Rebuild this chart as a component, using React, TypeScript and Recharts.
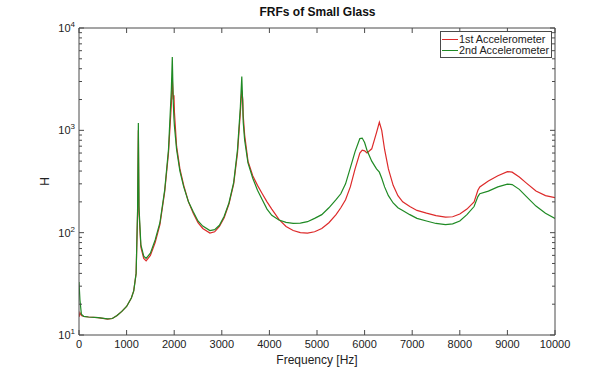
import React from 'react';
import { LineChart, Line, XAxis, YAxis, Legend } from 'recharts';

const freq = [0, 20, 50, 100, 200, 400, 600, 700, 800, 900, 1000, 1100, 1150, 1200, 1230, 1247, 1260, 1300, 1360, 1410, 1500, 1600, 1700, 1800, 1880, 1940, 1960, 1980, 1995, 2005, 2050, 2120, 2200, 2300, 2400, 2500, 2600, 2750, 2850, 2950, 3050, 3150, 3250, 3330, 3390, 3420, 3440, 3450, 3480, 3550, 3650, 3750, 3850, 3950, 4050, 4200, 4350, 4500, 4650, 4800, 4950, 5100, 5250, 5400, 5500, 5600, 5700, 5800, 5900, 5950, 6000, 6050, 6150, 6250, 6310, 6360, 6420, 6500, 6600, 6700, 6800, 6950, 7100, 7300, 7500, 7700, 7850, 8000, 8150, 8300, 8380, 8420, 8600, 8800, 9000, 9100, 9250, 9400, 9600, 9800, 10000];

const accel1 = [15, 16.5, 15.5, 15.2, 15, 14.8, 14.3, 14.5, 15.5, 17, 19, 23, 27, 40, 150, 1000, 160, 72, 56, 53, 60, 80, 120, 250, 600, 1800, 3200, 2000, 2200, 1500, 700, 420, 290, 200, 155, 125, 110, 99, 102, 115, 140, 190, 300, 600, 1500, 2450, 2000, 1400, 900, 500, 360, 290, 240, 200, 170, 135, 115, 105, 100, 99, 102, 110, 125, 150, 175, 210, 280, 420, 600, 640, 630, 600, 660, 950, 1200, 1000, 650, 420, 290, 230, 200, 180, 165, 155, 147, 142, 143, 152, 170, 200, 260, 280, 320, 360, 395, 390, 350, 305, 255, 230, 220];

const accel2 = [33, 22, 16, 15.2, 15, 14.8, 14.4, 14.5, 15.5, 17, 19, 23, 27, 40, 160, 1180, 180, 76, 59, 56, 63, 85, 125, 260, 650, 2500, 5200, 1900, 1300, 1100, 650, 400, 280, 200, 160, 130, 116, 105, 107, 118, 145, 195, 310, 650, 1700, 3350, 1800, 1200, 800, 480, 340, 260, 210, 170, 148, 133, 126, 123, 124, 128, 138, 150, 175, 210, 240, 300, 430, 620, 830, 840, 760, 640, 500, 420, 390, 340, 280, 230, 195, 175, 165, 150, 138, 130, 123, 120, 122, 130, 150, 180, 225, 240, 255, 280, 298, 295, 265, 225, 182, 155, 138];

const xTicks = [0, 1000, 2000, 3000, 4000, 5000, 6000, 7000, 8000, 9000, 10000];
const yTicks = [10, 20, 30, 40, 50, 60, 70, 80, 90, 100, 200, 300, 400, 500, 600, 700, 800, 900, 1000, 2000, 3000, 4000, 5000, 6000, 7000, 8000, 9000, 10000];
const seriesNames = ['1st Accelerometer', '2nd Accelerometer'];
const seriesColors = ['#dd2a2a', '#1f8a24'];

const data = freq.map((f, i) => ({ f, a1: accel1[i], a2: accel2[i] }));

const FONT = '"Liberation Sans", Arial, Helvetica, sans-serif';
const AXIS = '#4a4a4a';

const isDecade = (v: number) => Math.abs(Math.log10(v) - Math.round(Math.log10(v))) < 1e-9;

const BottomTick = (props: any) => {
  const { x, y, payload } = props;
  return (
    <g>
      <line x1={x} y1={y} x2={x} y2={y - 5} stroke={AXIS} strokeWidth={1} />
      <text x={x} y={y + 12.5} textAnchor="middle" fontSize={11} fontFamily={FONT} fill="#222">
        {payload.value}
      </text>
    </g>
  );
};

const TopTick = (props: any) => {
  const { x, y } = props;
  return <line x1={x} y1={y} x2={x} y2={y + 5} stroke={AXIS} strokeWidth={1} />;
};

const LeftTick = (props: any) => {
  const { x, y, payload } = props;
  const v = payload.value;
  const major = isDecade(v);
  return (
    <g>
      <line x1={x} y1={y} x2={x + (major ? 5 : 3)} y2={y} stroke={AXIS} strokeWidth={1} />
      {major && (
        <text x={x - 4} y={y + 4} textAnchor="end" fontSize={11} fontFamily={FONT} fill="#222">
          <tspan>10</tspan>
          <tspan dy={-5} fontSize={8}>{Math.round(Math.log10(v))}</tspan>
        </text>
      )}
    </g>
  );
};

const RightTick = (props: any) => {
  const { x, y, payload } = props;
  const major = isDecade(payload.value);
  return <line x1={x} y1={y} x2={x - (major ? 5 : 3)} y2={y} stroke={AXIS} strokeWidth={1} />;
};

const LegendBox = () => (
  <div
    style={{
      border: `1px solid ${AXIS}`,
      background: '#fff',
      padding: '1px 2px 1px 1px',
      fontFamily: FONT,
      fontSize: 10.8,
      lineHeight: '11px',
      color: '#222',
      whiteSpace: 'nowrap',
    }}
  >
    {seriesNames.map((n, i) => (
      <div key={n} style={{ display: 'flex', alignItems: 'center', height: 11, marginTop: i ? 0 : 1 }}>
        <span style={{ display: 'inline-block', width: 16, height: 0, borderTop: `1.3px solid ${seriesColors[i]}`, marginRight: 1 }} />
        <span>{n}</span>
      </div>
    ))}
  </div>
);

export default function App() {
  return (
    <div style={{ position: 'absolute', left: 0, top: 0, width: 614, height: 378, background: '#fff' }}>
      <div
        style={{
          position: 'absolute',
          left: 0,
          top: 5,
          width: 635,
          textAlign: 'center',
          fontFamily: FONT,
          fontWeight: 'bold',
          fontSize: 12,
          color: '#111',
        }}
      >
        FRFs of Small Glass
      </div>
      <LineChart width={614} height={378} data={data} margin={{ top: 27, right: 58, bottom: 13, left: 39 }}>
        <XAxis
          xAxisId="bottom"
          dataKey="f"
          type="number"
          domain={[0, 10000]}
          ticks={xTicks}
          allowDataOverflow
          height={30}
          tickSize={0}
          tickMargin={0}
          tickLine={false}
          axisLine={{ stroke: AXIS }}
          tick={<BottomTick />}
          interval={0}
          label={{
            content: (p: any) => {
              const vb = p.viewBox;
              return (
                <text x={vb.x + vb.width / 2} y={vb.y + 28.5} textAnchor="middle" fontSize={12} fontFamily={FONT} fill="#222">
                  Frequency [Hz]
                </text>
              );
            },
          }}
        />
        <XAxis
          xAxisId="top"
          orientation="top"
          dataKey="f"
          type="number"
          domain={[0, 10000]}
          ticks={xTicks}
          allowDataOverflow
          height={1}
          tickSize={0}
          tickMargin={0}
          tickLine={false}
          axisLine={{ stroke: AXIS }}
          tick={<TopTick />}
          interval={0}
        />
        <YAxis
          yAxisId="left"
          scale="log"
          type="number"
          domain={[10, 10000]}
          ticks={yTicks}
          allowDataOverflow
          width={40}
          tickSize={0}
          tickMargin={0}
          tickLine={false}
          axisLine={{ stroke: AXIS }}
          tick={<LeftTick />}
          interval={0}
          label={{
            content: (p: any) => {
              const vb = p.viewBox;
              const cx = vb.x + 10;
              const cy = vb.y + vb.height / 2;
              return (
                <text x={cx} y={cy} transform={`rotate(-90, ${cx}, ${cy})`} textAnchor="middle" fontSize={12} fontFamily={FONT} fill="#222">
                  H
                </text>
              );
            },
          }}
        />
        <YAxis
          yAxisId="right"
          orientation="right"
          scale="log"
          type="number"
          domain={[10, 10000]}
          ticks={yTicks}
          allowDataOverflow
          width={1}
          tickSize={0}
          tickMargin={0}
          tickLine={false}
          axisLine={{ stroke: AXIS }}
          tick={<RightTick />}
          interval={0}
        />
        <Legend
          layout="horizontal"
          verticalAlign="middle"
          align="center"
          content={<LegendBox />}
          wrapperStyle={{ top: 31, left: 440, width: 'auto', height: 'auto' }}
        />
        <Line
          xAxisId="bottom"
          yAxisId="left"
          dataKey="a1"
          name={seriesNames[0]}
          type="linear"
          stroke={seriesColors[0]}
          strokeWidth={1.2}
          dot={false}
          isAnimationActive={false}
        />
        <Line
          xAxisId="bottom"
          yAxisId="left"
          dataKey="a2"
          name={seriesNames[1]}
          type="linear"
          stroke={seriesColors[1]}
          strokeWidth={1.2}
          dot={false}
          isAnimationActive={false}
        />
      </LineChart>
    </div>
  );
}
